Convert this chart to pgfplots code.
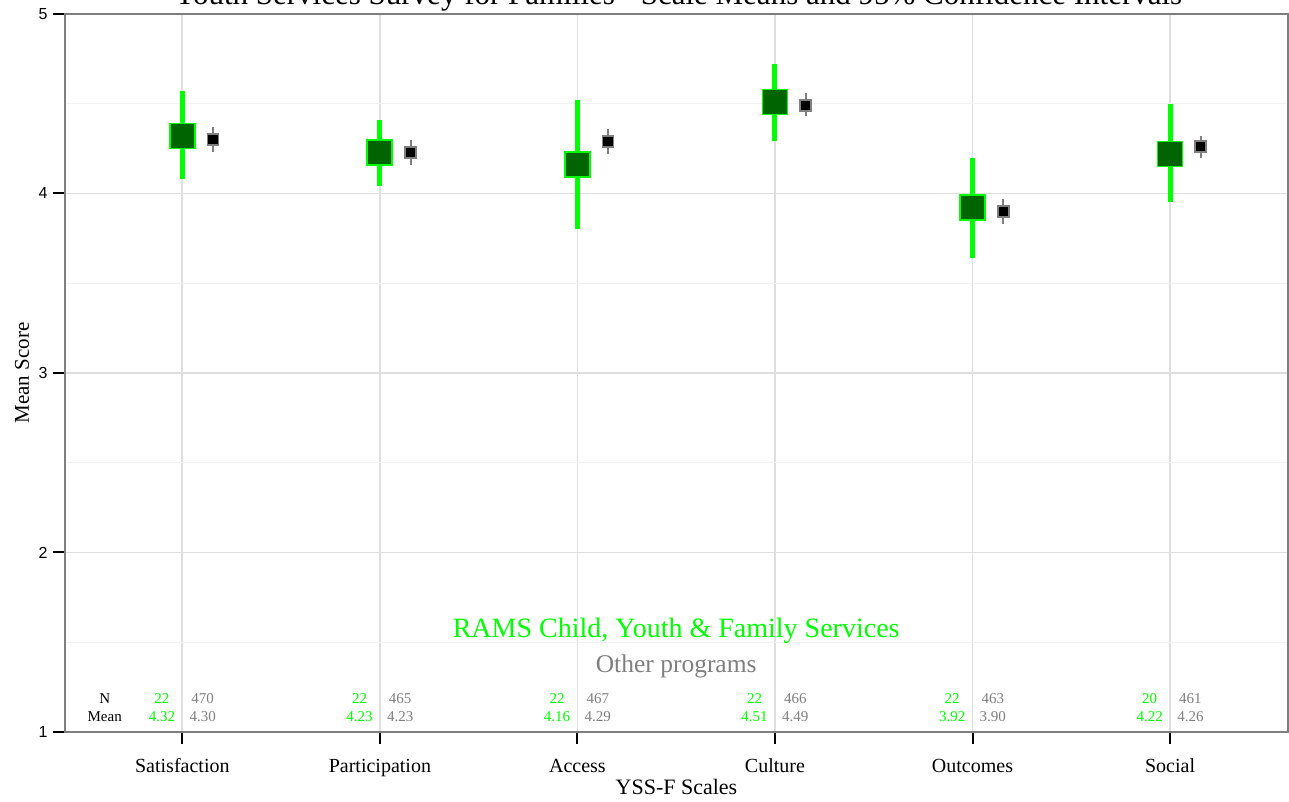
\documentclass[border=0pt]{standalone}
\usepackage{pgfplots}
\usepackage{pgfplotstable}
\pgfplotsset{compat=1.18}
\usepackage{fontspec}
\setmainfont{Liberation Serif}
\newfontfamily\tickfont{Liberation Sans}
\definecolor{rgreen}{HTML}{00FF00}
\definecolor{dgreen}{HTML}{006400}
\definecolor{ogray}{HTML}{7F7F7F}
\definecolor{gmaj}{HTML}{DEDEDE}
\definecolor{gmin}{HTML}{F2F2F2}

% RAMS Child, Youth & Family Services
\pgfplotstableread{
x m lo hi
1 4.32 4.08 4.57
2 4.23 4.04 4.41
3 4.16 3.80 4.52
4 4.51 4.29 4.72
5 3.92 3.64 4.20
6 4.22 3.95 4.50
}\rams
% Other programs
\pgfplotstableread{
x m lo hi
1 4.30 4.23 4.37
2 4.23 4.16 4.30
3 4.29 4.22 4.36
4 4.49 4.43 4.56
5 3.90 3.83 3.97
6 4.26 4.20 4.32
}\other

\begin{document}
\begin{tikzpicture}
\begin{axis}[
  at={(0pt,0pt)}, anchor=south west,
  scale only axis, width=1223pt, height=718pt,
  xmin=0.406, xmax=6.597, ymin=1, ymax=5,
  xtick={1,2,3,4,5,6},
  xticklabels={Satisfaction,Participation,Access,Culture,Outcomes,Social},
  ytick={1,2,3,4,5},
  minor ytick={1.5,2.5,3.5,4.5},
  grid=both,
  major grid style={color=gmaj, line width=1.8pt},
  minor grid style={color=gmin, line width=1.4pt},
  axis line style={color=ogray, line width=1.3pt},
  tick align=outside, tick pos=left,
  major tick length=12pt, minor tick length=0pt,
  tick style={black, line width=2pt},
  /pgf/number format/assume math mode=true,
  yticklabel style={font=\tickfont\fontsize{16}{19}\selectfont, xshift=-2pt},
  xticklabel style={font=\fontsize{20}{24}\selectfont, anchor=base, yshift=-28pt},
  xlabel={YSS-F Scales},
  ylabel={Mean Score},
  xlabel style={font=\fontsize{22}{26}\selectfont, at={(axis description cs:0.5,-0.0877)}, anchor=base},
  ylabel style={font=\fontsize{21}{25}\selectfont, at={(axis description cs:-0.0352,0.5)}, anchor=center},
  clip=false,
]
% RAMS CIs
\addplot[only marks, mark=none, forget plot,
  error bars/.cd, y dir=both, y explicit, error mark=none,
  error bar style={line width=5pt, color=rgreen}]
  table[x=x, y=m, y error plus expr=\thisrow{hi}-\thisrow{m}, y error minus expr=\thisrow{m}-\thisrow{lo}] {\rams};
\addplot[only marks, mark=square*, mark size=12.5pt,
  mark options={fill=dgreen, draw=rgreen, line width=1.8pt}]
  table[x=x, y=m] {\rams};
% Other programs CIs
\addplot[only marks, mark=none, forget plot,
  error bars/.cd, y dir=both, y explicit, error mark=none,
  error bar style={line width=2pt, color=ogray}]
  table[x expr=\thisrow{x}+0.155, y=m, y error plus expr=\thisrow{hi}-\thisrow{m}, y error minus expr=\thisrow{m}-\thisrow{lo}] {\other};
\addplot[only marks, mark=square*, mark size=5.5pt,
  mark options={fill=black, draw=ogray, line width=1.8pt}]
  table[x expr=\thisrow{x}+0.155, y=m] {\other};

% legend-like labels
\node[anchor=base, text=rgreen, font=\fontsize{28}{33}\selectfont] at (axis cs:3.5,1.529) {RAMS Child, Youth \& Family Services};
\node[anchor=base, text=ogray, font=\fontsize{25.5}{30}\selectfont] at (axis cs:3.5,1.330) {Other programs};

% N / Mean table
\node[anchor=base, font=\fontsize{15}{18}\selectfont] at (axis cs:0.607,1.156) {N};
\node[anchor=base, font=\fontsize{15}{18}\selectfont] at (axis cs:0.607,1.057) {Mean};
\foreach \cx/\ng/\mg/\no/\mo in {1/22/4.32/470/4.30, 2/22/4.23/465/4.23, 3/22/4.16/467/4.29, 4/22/4.51/466/4.49, 5/22/3.92/463/3.90, 6/20/4.22/461/4.26} {
  \edef\temp{\noexpand\node[anchor=base, text=rgreen, font=\noexpand\fontsize{15}{18}\noexpand\selectfont] at (axis cs:\cx-0.103,1.156) {\ng};
  \noexpand\node[anchor=base, text=rgreen, font=\noexpand\fontsize{15}{18}\noexpand\selectfont] at (axis cs:\cx-0.103,1.057) {\mg};
  \noexpand\node[anchor=base, text=ogray, font=\noexpand\fontsize{15}{18}\noexpand\selectfont] at (axis cs:\cx+0.103,1.156) {\no};
  \noexpand\node[anchor=base, text=ogray, font=\noexpand\fontsize{15}{18}\noexpand\selectfont] at (axis cs:\cx+0.103,1.057) {\mo};}
  \temp
}
\end{axis}
\node[anchor=base, font=\fontsize{31}{36}\selectfont] at (613pt,727pt) {Youth Services Survey for Families - Scale Means and 95\% Confidence Intervals};
\pgfresetboundingbox
\path[use as bounding box] (-65pt,-70pt) rectangle (1224pt,732pt);
\end{tikzpicture}
\end{document}
